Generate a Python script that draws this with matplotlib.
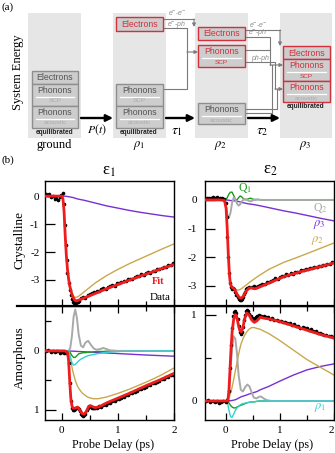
import matplotlib
matplotlib.use('Agg')
import matplotlib.pyplot as plt
from matplotlib.patches import Rectangle
from matplotlib.lines import Line2D
from matplotlib.ticker import MultipleLocator, FixedLocator

plt.rcParams['font.family'] = ['Liberation Serif', 'DejaVu Serif']
plt.rcParams['mathtext.fontset'] = 'stix'
plt.rcParams['axes.unicode_minus'] = False

# ---------------- data ----------------
# crystalline, epsilon 1
t_c1 = [-0.3, -0.1, 0.0, 0.02, 0.04, 0.06, 0.08, 0.10, 0.12, 0.14, 0.17, 0.20, 0.23,
        0.26, 0.30, 0.40, 0.50, 0.60, 0.80, 1.00, 1.20, 1.40, 1.60, 1.80, 2.00]
fit_c1 = [0, 0, 0, -0.1, -0.55, -1.4, -2.1, -2.6, -2.95, -3.2, -3.45, -3.62, -3.72,
          -3.75, -3.72, -3.64, -3.56, -3.48, -3.31, -3.16, -3.01, -2.86, -2.72, -2.58, -2.45]
rho2_c1 = [0, 0, 0, -0.1, -0.55, -1.4, -2.1, -2.6, -2.95, -3.2, -3.42, -3.56, -3.62,
           -3.62, -3.58, -3.42, -3.26, -3.1, -2.84, -2.62, -2.42, -2.24, -2.06, -1.88, -1.71]
rho3_c1 = [0, 0, 0, 0, 0, -0.005, -0.01, -0.015, -0.02, -0.03, -0.04, -0.05, -0.07,
           -0.09, -0.11, -0.15, -0.2, -0.25, -0.35, -0.43, -0.51, -0.58, -0.64, -0.7, -0.75]
td_c1 = [-0.28, -0.25, -0.22, -0.19, -0.16, -0.13, -0.10, -0.07, -0.04, -0.01, 0.02,
         0.04, 0.055, 0.07, 0.085, 0.10, 0.12, 0.14, 0.16, 0.18, 0.20, 0.22, 0.24, 0.26, 0.28,
         0.30, 0.34, 0.38, 0.42, 0.46, 0.50, 0.54, 0.58, 0.62, 0.66, 0.70, 0.74, 0.78, 0.82,
         0.86, 0.90, 0.94, 0.98, 1.02, 1.06, 1.10, 1.14, 1.18, 1.22, 1.26, 1.30, 1.34, 1.38,
         1.42, 1.46, 1.50, 1.54, 1.58, 1.62, 1.66, 1.70, 1.74, 1.78, 1.82, 1.86, 1.90, 1.94, 1.98]
yd_c1 = [0.08, 0.03, 0.06, -0.04, 0.02, -0.12, -0.08, -0.15, -0.05, 0.05, 0.12,
         -0.3, -1.05, -1.75, -2.3, -2.75, -3.1, -3.35, -3.55, -3.68, -3.78, -3.83, -3.85, -3.82, -3.78,
         -3.74, -3.66, -3.61, -3.63, -3.52, -3.50, -3.47, -3.44, -3.40, -3.41, -3.33, -3.30, -3.31, -3.24,
         -3.22, -3.18, -3.20, -3.12, -3.10, -3.08, -3.03, -3.05, -2.98, -2.95, -2.96, -2.89, -2.87, -2.86,
         -2.80, -2.82, -2.76, -2.73, -2.74, -2.67, -2.68, -2.62, -2.60, -2.58, -2.53, -2.55, -2.47, -2.45, -2.38]

# crystalline, epsilon 2
t_c2 = [-0.38, -0.1, -0.02, 0.01, 0.03, 0.05, 0.07, 0.09, 0.12, 0.16, 0.20, 0.25, 0.29,
        0.33, 0.38, 0.43, 0.48, 0.54, 0.60, 0.80, 1.07, 1.30, 1.60, 1.80, 2.00]
fit_c2 = [0, 0, -0.02, -0.3, -1.0, -1.9, -2.6, -2.95, -3.05, -3.1, -3.25, -3.4, -3.43,
          -3.35, -3.18, -3.08, -3.07, -3.1, -3.06, -2.9, -2.68, -2.55, -2.4, -2.3, -2.2]
rho2_c2 = [0, 0, -0.02, -0.3, -1.0, -1.9, -2.6, -2.95, -3.08, -3.13, -3.15, -3.14, -3.1,
           -3.04, -2.97, -2.89, -2.82, -2.74, -2.66, -2.42, -2.18, -2.02, -1.8, -1.65, -1.5]
rho3_c2 = [0, 0, 0, 0, -0.005, -0.01, -0.015, -0.02, -0.025, -0.03, -0.04, -0.06, -0.08,
           -0.1, -0.12, -0.14, -0.15, -0.17, -0.19, -0.27, -0.38, -0.46, -0.58, -0.66, -0.73]
tq_c2 = [-0.38, -0.02, 0.01, 0.03, 0.06, 0.09, 0.12, 0.15, 0.18, 0.21, 0.24, 0.27, 0.30,
         0.34, 0.38, 0.42, 0.46, 0.50, 0.55, 0.60, 0.65, 0.70, 2.0]
q1_c2 = [0, 0, 0.02, 0.08, 0.2, 0.27, 0.27, 0.15, 0.02, 0.0, 0.08, 0.14, 0.1,
         0.02, 0.0, 0.04, 0.06, 0.03, 0.0, 0.02, 0.0, 0, 0]
q2_c2 = [0, 0, -0.25, -0.5, -0.62, -0.45, -0.1, 0.08, 0.02, -0.12, -0.2, -0.15, -0.05,
         0.02, 0.03, -0.03, -0.05, -0.02, 0.02, 0.01, 0.0, 0, 0]
td_c2 = [-0.35, -0.31, -0.27, -0.23, -0.19, -0.15, -0.11, -0.07, -0.03, 0.0,
         0.02, 0.035, 0.05, 0.065, 0.08, 0.10, 0.12, 0.14, 0.16, 0.18, 0.20, 0.22, 0.24, 0.26,
         0.28, 0.30, 0.32, 0.34, 0.36, 0.38,
         0.40, 0.44, 0.48, 0.52, 0.56, 0.60, 0.64, 0.68, 0.72, 0.76, 0.80, 0.84, 0.88, 0.92,
         0.96, 1.00, 1.04, 1.08, 1.12, 1.16, 1.20, 1.24, 1.28, 1.32, 1.36, 1.40, 1.44, 1.48,
         1.52, 1.56, 1.60, 1.64, 1.68, 1.72, 1.76, 1.80, 1.84, 1.88, 1.92, 1.96]
yd_c2 = [0.05, 0.08, 0.06, 0.09, 0.07, 0.1, 0.08, 0.06, 0.02, -0.1,
         -0.6, -1.3, -2.0, -2.55, -2.9, -3.05, -3.1, -3.08, -3.12, -3.2, -3.3, -3.38, -3.45, -3.5,
         -3.48, -3.45, -3.38, -3.28, -3.2, -3.12,
         -3.08, -3.02, -3.05, -3.0, -3.04, -2.99, -2.98, -2.92, -2.94, -2.87, -2.88, -2.82, -2.8, -2.74,
         -2.76, -2.7, -2.66, -2.67, -2.6, -2.62, -2.56, -2.57, -2.52, -2.5, -2.51, -2.45, -2.46, -2.41,
         -2.42, -2.38, -2.39, -2.33, -2.34, -2.3, -2.31, -2.26, -2.27, -2.22, -2.23, -2.18]

# amorphous, epsilon 1 (axis inverted)
t_a1 = [-0.3, 0.05, 0.10, 0.12, 0.14, 0.16, 0.18, 0.20, 0.24, 0.28, 0.32, 0.36, 0.40,
        0.44, 0.48, 0.52, 0.56, 0.60, 0.65, 0.70, 0.80, 1.00, 1.20, 1.50, 1.75, 2.00]
fit_a1 = [0, 0, 0.02, 0.15, 0.5, 0.8, 0.93, 0.97, 0.97, 0.95, 1.0, 1.06, 1.07,
          1.02, 0.94, 0.93, 0.95, 0.96, 0.95, 0.93, 0.88, 0.8, 0.72, 0.59, 0.49, 0.38]
rho2_a1 = [0, 0, 0.0, 0.02, 0.06, 0.15, 0.27, 0.36, 0.5, 0.6, 0.66, 0.71, 0.74,
           0.77, 0.79, 0.8, 0.81, 0.81, 0.81, 0.8, 0.78, 0.72, 0.65, 0.53, 0.42, 0.29]
rho3_a1 = [0, 0, 0, 0.001, 0.002, 0.003, 0.004, 0.005, 0.007, 0.009, 0.011, 0.013, 0.015,
           0.017, 0.019, 0.021, 0.023, 0.025, 0.028, 0.03, 0.035, 0.045, 0.055, 0.07, 0.08, 0.09]
tq_a1 = [-0.3, 0.12, 0.15, 0.18, 0.21, 0.24, 0.27, 0.30, 0.34, 0.38, 0.42, 0.47, 0.52,
         0.57, 0.62, 0.68, 0.74, 0.80, 0.86, 1.0, 1.2, 2.0]
q2_a1 = [0, 0, -0.05, -0.25, -0.58, -0.7, -0.55, -0.28, -0.09, -0.06, -0.14, -0.17, -0.1,
         -0.04, -0.02, -0.03, -0.05, -0.03, -0.01, 0, 0, 0]
q1_a1 = [0, 0, 0.03, 0.08, 0.11, 0.11, 0.08, 0.05, 0.04, 0.03, 0.03, 0.02, 0.02,
         0.015, 0.01, 0.01, 0.01, 0.005, 0.005, 0, 0, 0]
rho1_a1 = [0, 0, 0.1, 0.2, 0.24, 0.23, 0.2, 0.17, 0.14, 0.12, 0.1, 0.08, 0.07,
           0.06, 0.05, 0.04, 0.03, 0.025, 0.02, 0.01, 0.005, 0]
td_a1 = [-0.28, -0.24, -0.2, -0.16, -0.12, -0.08, -0.04, 0.0, 0.04, 0.08,
         0.12, 0.14, 0.16, 0.18, 0.20, 0.22, 0.24, 0.26, 0.28, 0.30, 0.32, 0.34, 0.36, 0.38,
         0.40, 0.42, 0.44, 0.46, 0.48, 0.50, 0.52, 0.54, 0.56, 0.58, 0.60, 0.62, 0.64, 0.66,
         0.70, 0.74, 0.78, 0.82, 0.86, 0.90, 0.94, 0.98, 1.02, 1.06, 1.10, 1.14, 1.18, 1.22,
         1.26, 1.30, 1.34, 1.38, 1.42, 1.46, 1.50, 1.54, 1.58, 1.62, 1.66, 1.70, 1.74, 1.78,
         1.82, 1.86, 1.90, 1.94, 1.98]
yd_a1 = [0.01, -0.01, 0.02, 0.0, 0.02, 0.01, 0.03, 0.02, 0.04, 0.03,
         0.2, 0.55, 0.85, 0.96, 1.0, 1.0, 0.98, 0.97, 0.96, 0.98, 1.02, 1.06, 1.09, 1.1,
         1.09, 1.06, 1.0, 0.96, 0.94, 0.94, 0.95, 0.96, 0.97, 0.97, 0.96, 0.96, 0.95, 0.94,
         0.95, 0.92, 0.91, 0.88, 0.88, 0.85, 0.84, 0.82, 0.81, 0.79, 0.78, 0.75, 0.75, 0.72,
         0.71, 0.69, 0.68, 0.65, 0.64, 0.62, 0.61, 0.58, 0.58, 0.55, 0.54, 0.52, 0.51, 0.48,
         0.47, 0.44, 0.44, 0.41, 0.40]

# amorphous, epsilon 2
t_a2 = [-0.38, 0.0, 0.04, 0.06, 0.08, 0.10, 0.12, 0.15, 0.18, 0.20, 0.23, 0.26, 0.29, 0.32,
        0.35, 0.39, 0.43, 0.48, 0.53, 0.58, 0.64, 0.70, 0.80, 1.00, 1.25, 1.50, 1.75, 2.00]
fit_a2 = [0, 0, 0.0, 0.1, 0.35, 0.6, 0.8, 0.95, 1.0, 0.99, 0.9, 0.82, 0.8, 0.85,
          0.95, 1.02, 1.0, 0.94, 0.91, 0.93, 0.97, 0.96, 0.95, 0.92, 0.87, 0.82, 0.77, 0.73]
rho2_a2 = [0, 0, 0.0, 0.03, 0.07, 0.11, 0.16, 0.25, 0.35, 0.41, 0.51, 0.6, 0.67, 0.72,
           0.76, 0.8, 0.83, 0.85, 0.85, 0.84, 0.83, 0.81, 0.78, 0.7, 0.59, 0.48, 0.39, 0.3]
rho3_a2 = [0, 0, 0, 0.001, 0.002, 0.004, 0.006, 0.01, 0.015, 0.02, 0.03, 0.04, 0.05, 0.055,
           0.062, 0.07, 0.08, 0.09, 0.1, 0.11, 0.13, 0.145, 0.17, 0.23, 0.3, 0.36, 0.4, 0.43]
tq_a2 = [-0.38, 0.03, 0.06, 0.09, 0.12, 0.15, 0.18, 0.21, 0.24, 0.28, 0.32, 0.36, 0.40,
         0.44, 0.48, 0.52, 0.57, 0.62, 0.66, 0.70, 0.76, 0.85, 1.0, 2.0]
q2_a2 = [0, 0, 0.1, 0.35, 0.62, 0.75, 0.72, 0.55, 0.3, 0.13, 0.11, 0.16, 0.19,
         0.17, 0.1, 0.04, 0.03, 0.05, 0.05, 0.03, 0.01, 0, 0, 0]
q1_a2 = [0, 0, -0.02, -0.05, -0.07, -0.08, -0.08, -0.07, -0.06, -0.05, -0.04, -0.03, -0.02,
         -0.015, -0.01, -0.01, -0.005, 0, 0, 0, 0, 0, 0, 0]
rho1_a2 = [0, 0, -0.1, -0.18, -0.19, -0.15, -0.11, -0.08, -0.06, -0.04, -0.03, -0.025, -0.02,
           -0.015, -0.01, -0.01, -0.005, 0, 0, 0, 0, 0, 0, 0]
td_a2 = [-0.36, -0.32, -0.28, -0.24, -0.2, -0.16, -0.12, -0.08, -0.04, 0.0, 0.03,
         0.06, 0.08, 0.10, 0.12, 0.14, 0.16, 0.18, 0.20, 0.22, 0.24, 0.26, 0.28, 0.30, 0.32,
         0.34, 0.36, 0.38, 0.40, 0.42, 0.44, 0.46, 0.48, 0.50, 0.52, 0.54, 0.56, 0.58, 0.60,
         0.62, 0.64, 0.66,
         0.70, 0.74, 0.78, 0.82, 0.86, 0.90, 0.94, 0.98, 1.02, 1.06, 1.10, 1.14, 1.18, 1.22,
         1.26, 1.30, 1.34, 1.38, 1.42, 1.46, 1.50, 1.54, 1.58, 1.62, 1.66, 1.70, 1.74, 1.78,
         1.82, 1.86, 1.90, 1.94, 1.98]
yd_a2 = [0.0, 0.01, -0.01, 0.0, -0.01, 0.0, -0.02, -0.01, 0.0, -0.01, 0.01,
         0.12, 0.38, 0.65, 0.85, 0.98, 1.03, 1.04, 1.02, 0.95, 0.87, 0.8, 0.78, 0.8, 0.86,
         0.94, 1.0, 1.04, 1.05, 1.04, 1.01, 0.98, 0.96, 0.95, 0.95, 0.96, 0.97, 0.98, 0.99,
         1.0, 0.99, 0.99,
         0.98, 0.97, 0.97, 0.95, 0.96, 0.94, 0.94, 0.93, 0.93, 0.91, 0.92, 0.9, 0.9, 0.88,
         0.89, 0.87, 0.87, 0.85, 0.86, 0.84, 0.84, 0.82, 0.83, 0.81, 0.81, 0.79, 0.79, 0.78,
         0.77, 0.77, 0.75, 0.75, 0.74]

C_FIT = '#ee1c1c'
C_RHO2 = '#c9a84c'
C_RHO3 = '#7630d4'
C_Q1 = '#1c9a1c'
C_Q2 = '#a9a9a9'
C_RHO1 = '#33d0d4'

W, H = 335, 453
fig = plt.figure(figsize=(W / 100, H / 100), dpi=100)


def fx(x):
    return x / W


def fy(y):
    return 1 - y / H


# ---------------- panel (a): schematic ----------------
axd = fig.add_axes([0, fy(152), 1, 152 / H])
axd.set_xlim(0, W)
axd.set_ylim(152, 0)
axd.axis('off')

GRAY_EC, GRAY_T, SUB_T = '#8e8e8e', '#555555', '#ababab'
RED = '#d2303c'

for x0, x1 in [(28, 81), (113, 166), (195, 248), (280, 332)]:
    axd.add_patch(Rectangle((x0, 13), x1 - x0, 125, fc='#e6e6e6', ec='none', zorder=0))


def box(x0, y0, x1, y1, ec, title, tc, sub=None, sc=None):
    axd.add_patch(Rectangle((x0, y0), x1 - x0, y1 - y0, fc='#cdcdcd', ec=ec, lw=1.0, zorder=2))
    xc = (x0 + x1) / 2
    if sub is None:
        axd.text(xc, (y0 + y1) / 2 + 0.5, title, color=tc, fontsize=6.3, ha='center', va='center',
                 family='Liberation Sans', zorder=3)
    else:
        axd.text(xc, y0 + 6.5, title, color=tc, fontsize=6.3, ha='center', va='center',
                 family='Liberation Sans', zorder=3)
        axd.plot([x0 + 4, x1 - 4], [y0 + 12.5, y0 + 12.5], color='white', lw=0.9, zorder=3)
        axd.text(xc, y0 + 17, sub, color=sc, fontsize=4.6, ha='center', va='center',
                 family='Liberation Sans', zorder=3)


# ground
box(32, 71, 78, 84, GRAY_EC, 'Electrons', GRAY_T)
box(32, 84, 78, 106, GRAY_EC, 'Phonons', GRAY_T, 'SCP', SUB_T)
box(32, 106, 78, 128, GRAY_EC, 'Phonons', GRAY_T, 'acoustic', SUB_T)
# rho1
box(116, 17, 163, 31, RED, 'Electrons', RED)
box(116, 84, 163, 106, GRAY_EC, 'Phonons', GRAY_T, 'SCP', SUB_T)
box(116, 106, 163, 128, GRAY_EC, 'Phonons', GRAY_T, 'acoustic', SUB_T)
# rho2
box(198, 27, 245, 40, RED, 'Electrons', RED)
box(198, 45, 245, 67, RED, 'Phonons', RED, 'SCP', RED)
box(198, 103, 245, 124, GRAY_EC, 'Phonons', GRAY_T, 'acoustic', SUB_T)
# rho3
box(283, 46, 330, 59, RED, 'Electrons', RED)
box(283, 59, 330, 81, RED, 'Phonons', RED, 'SCP', RED)
box(283, 81, 330, 102, RED, 'Phonons', RED, 'acoustic', SUB_T)

for xc, yc in [(55, 133), (139, 133), (306, 107)]:
    axd.text(xc, yc, 'equilibrated', fontsize=4.8, weight='bold', ha='center', va='center',
             family='Liberation Sans', color='#222222')

for xc, lab in [(54, 'ground'), (139, r'$\rho_1$'), (221, r'$\rho_2$'), (305, r'$\rho_3$')]:
    axd.text(xc, 145, lab, fontsize=9, ha='center', va='center')

for xa, xb in [(81, 113), (166, 195), (248, 280)]:
    axd.annotate('', xy=(xb, 118), xytext=(xa, 118),
                 arrowprops=dict(arrowstyle='-|>', color='k', lw=1.7, mutation_scale=10,
                                 shrinkA=0, shrinkB=0))
axd.text(97, 130, r'$P(t)$', fontsize=8.5, ha='center', va='center')
axd.text(177, 131, r'$\tau_1$', fontsize=10, ha='center', va='center')
axd.text(262, 132, r'$\tau_2$', fontsize=10, ha='center', va='center')

CONN = '#7a7a7a'


def conn(pts, arrow=True):
    xs = [p[0] for p in pts]
    ys = [p[1] for p in pts]
    if arrow:
        axd.plot(xs[:-1], ys[:-1], color=CONN, lw=0.8, solid_joinstyle='round', zorder=1)
        axd.annotate('', xy=pts[-1], xytext=pts[-2],
                     arrowprops=dict(arrowstyle='-|>', color=CONN, lw=0.8, mutation_scale=5,
                                     shrinkA=0, shrinkB=0), zorder=1)
    else:
        axd.plot(xs, ys, color=CONN, lw=0.8, solid_joinstyle='round', zorder=1)


# rho1 -> rho2
conn([(163, 19), (194, 19), (194, 27)])
conn([(163, 28), (187, 28), (187, 52), (198, 52)])
conn([(163, 89), (187, 89), (187, 52)], arrow=False)
# rho2 -> rho3
conn([(245, 30), (280, 30), (280, 46)])
conn([(245, 37), (270, 37), (270, 65), (283, 65)])
conn([(245, 50), (270, 50)], arrow=False)
conn([(245, 62), (275, 62), (275, 89), (283, 89)])
conn([(245, 109), (277, 109), (277, 89)], arrow=False)
conn([(245, 113), (272, 113), (272, 65)], arrow=False)

lab_kw = dict(fontsize=5, style='italic', color='#8a8a8a', ha='center', va='center',
              family='Liberation Sans')
axd.text(177, 13, 'e$^{-}$-e$^{-}$', **lab_kw)
axd.text(177, 24, 'e$^{-}$-ph', **lab_kw)
axd.text(258, 25, 'e$^{-}$-e$^{-}$', **lab_kw)
axd.text(258, 33, 'e$^{-}$-ph', **lab_kw)
axd.text(260, 58, 'ph-ph', **lab_kw)

axd.text(2, 7, '(a)', fontsize=8, ha='left', va='center')
axd.text(18, 72, 'System Energy', fontsize=9, rotation=90, ha='center', va='center')

# ---------------- panel (b): transients ----------------
L1, R1, L2, R2 = 45, 174, 205, 334
T, M, B = 181, 306, 420
ax_c1 = fig.add_axes([fx(L1), fy(M), (R1 - L1) / W, (M - T) / H])
ax_c2 = fig.add_axes([fx(L2), fy(M), (R2 - L2) / W, (M - T) / H])
ax_a1 = fig.add_axes([fx(L1), fy(B), (R1 - L1) / W, (B - M) / H])
ax_a2 = fig.add_axes([fx(L2), fy(B), (R2 - L2) / W, (B - M) / H])


def draw(ax, t, fit, rho2, rho3, td, yd, tq=None, q1=None, q2=None, rho1=None):
    ax.plot(t, rho3, color=C_RHO3, lw=1.0, zorder=2)
    ax.plot(t, rho2, color=C_RHO2, lw=1.0, zorder=2)
    if q1 is not None:
        ax.plot(tq, q1, color=C_Q1, lw=1.0, zorder=2)
    if q2 is not None:
        ax.plot(tq, q2, color=C_Q2, lw=1.4, zorder=2)
    if rho1 is not None:
        ax.plot(tq, rho1, color=C_RHO1, lw=1.0, zorder=2)
    ax.plot(td, yd, 'o', color='k', ms=2.6, mec='none', zorder=3)
    ax.plot(t, fit, color=C_FIT, lw=2.0, zorder=4)


draw(ax_c1, t_c1, fit_c1, rho2_c1, rho3_c1, td_c1, yd_c1)
draw(ax_c2, t_c2, fit_c2, rho2_c2, rho3_c2, td_c2, yd_c2, tq_c2, q1_c2, q2_c2)
draw(ax_a1, t_a1, fit_a1, rho2_a1, rho3_a1, td_a1, yd_a1, tq_a1, q1_a1, q2_a1, rho1_a1)
draw(ax_a2, t_a2, fit_a2, rho2_a2, rho3_a2, td_a2, yd_a2, tq_a2, q1_a2, q2_a2, rho1_a2)

ax_c1.set_xlim(-0.3, 2)
ax_a1.set_xlim(-0.3, 2)
ax_c2.set_xlim(-0.38, 2)
ax_a2.set_xlim(-0.38, 2)
ax_c1.set_ylim(-3.93, 0.54)
ax_c2.set_ylim(-3.7, 0.66)
ax_a1.set_ylim(1.17, -0.76)
ax_a2.set_ylim(-0.22, 1.1)

for ax in (ax_c1, ax_c2, ax_a1, ax_a2):
    for s in ax.spines.values():
        s.set_linewidth(1.0)
    ax.xaxis.set_major_locator(FixedLocator([0, 1, 2]))
    ax.xaxis.set_minor_locator(MultipleLocator(0.5))
    ax.tick_params(axis='x', which='major', direction='in', length=5, width=0.9, labelsize=8, pad=4)
    ax.tick_params(axis='x', which='minor', direction='in', length=3.5, width=0.9)
    ax.tick_params(axis='y', which='both', direction='in', width=0.9, labelsize=8, pad=4, right=False)

for ax in (ax_c1, ax_c2):
    ax.tick_params(axis='x', which='both', top=False, bottom=True, labelbottom=False)
    ax.yaxis.set_major_locator(FixedLocator([0, -1, -2, -3]))
    ax.tick_params(axis='y', which='major', length=7)
for ax in (ax_a1, ax_a2):
    ax.tick_params(axis='x', which='both', top=True, bottom=True)
    ax.yaxis.set_major_locator(FixedLocator([0, 1]))
    ax.yaxis.set_minor_locator(MultipleLocator(0.5))
    ax.tick_params(axis='y', which='major', length=8)
    ax.tick_params(axis='y', which='minor', length=4)
ax_c2.tick_params(axis='y', pad=6)
ax_a2.tick_params(axis='y', pad=6)

# keep the last tick label of the right column inside the canvas
fig.canvas.draw()
ax_a2.get_xticklabels()[-1].set_horizontalalignment('right')

fig.add_artist(Line2D([fx(17), 1], [fy(M), fy(M)], color='k', lw=1.6, transform=fig.transFigure))

fig.text(fx(109), fy(171), 'ε$_1$', fontsize=12, ha='center', va='center')
fig.text(fx(270), fy(170), 'ε$_2$', fontsize=12, ha='center', va='center')
fig.text(fx(20), fy(240), 'Crystalline', fontsize=9.5, rotation=90, ha='center', va='center')
fig.text(fx(20), fy(358), 'Amorphous', fontsize=9.5, rotation=90, ha='center', va='center')
fig.text(fx(113), fy(445), 'Probe Delay (ps)', fontsize=8.7, ha='center', va='center')
fig.text(fx(272), fy(445), 'Probe Delay (ps)', fontsize=8.7, ha='center', va='center')
fig.text(fx(2), fy(160), '(b)', fontsize=8, ha='left', va='center')

fig.text(fx(158), fy(282), 'Fit', fontsize=7.5, weight='bold', color=C_FIT, ha='center', va='center')
fig.text(fx(160), fy(297), 'Data', fontsize=8, color='k', ha='center', va='center')
fig.text(fx(245), fy(188), 'Q$_1$', fontsize=8.5, color=C_Q1, ha='center', va='center')
fig.text(fx(320), fy(208), 'Q$_2$', fontsize=8.5, color=C_Q2, ha='center', va='center')
fig.text(fx(319), fy(224), r'$\rho_3$', fontsize=9, color=C_RHO3, ha='center', va='center')
fig.text(fx(318), fy(240), r'$\rho_2$', fontsize=9, color=C_RHO2, ha='center', va='center')
fig.text(fx(320), fy(408), r'$\rho_1$', fontsize=9, color=C_RHO1, ha='center', va='center')

fig.savefig('out.png', dpi=100)
